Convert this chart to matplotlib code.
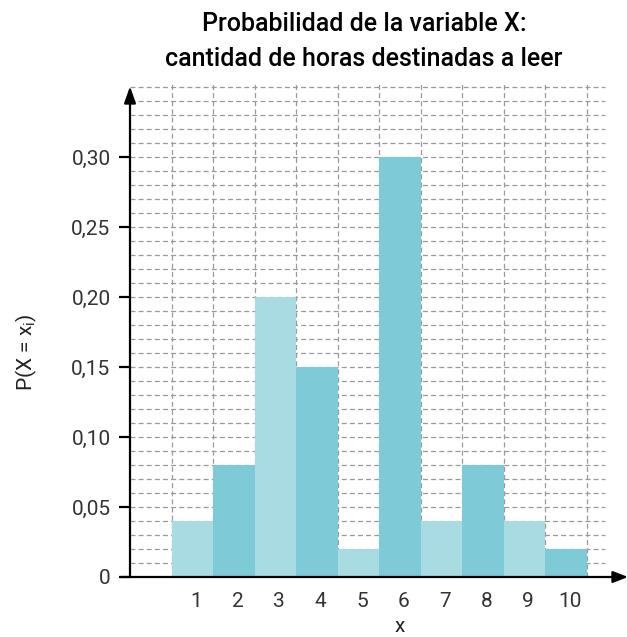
import matplotlib
matplotlib.use("Agg")
import matplotlib.pyplot as plt
import matplotlib.transforms as mtransforms
import numpy as np

x_vals = [1, 2, 3, 4, 5, 6, 7, 8, 9, 10]
probs = [0.04, 0.08, 0.20, 0.15, 0.02, 0.30, 0.04, 0.08, 0.04, 0.02]
y_ticks = [0, 0.05, 0.10, 0.15, 0.20, 0.25, 0.30]
y_ticklabels = ["0", "0,05", "0,10", "0,15", "0,20", "0,25", "0,30"]
title = "Probabilidad de la variable X:\ncantidad de horas destinadas a leer"

light = "#a9dbe2"
dark = "#7fcad7"
colors = [light if i % 2 == 0 else dark for i in range(len(x_vals))]

plt.rcParams['font.family'] = ['Roboto', 'DejaVu Sans']

W, H = 627, 637
fig = plt.figure(figsize=(W / 100, H / 100), dpi=100)
# pixel mapping: x=-0.5 at 130px, 41.5 px per unit; y=0 at 577px, 1400 px per unit
x0, xw = 130, 41.5
y0, yh = 577, 1400
xmin, xmax = -0.5, 11.7
ymin, ymax = -0.008, 0.36
left = (x0 + (xmin + 0.5) * xw) / W
right = (x0 + (xmax + 0.5) * xw) / W
bottom = (H - (y0 - ymin * yh)) / H
top = (H - (y0 - ymax * yh)) / H
ax = fig.add_axes([left, bottom, right - left, top - bottom])
ax.set_xlim(xmin, xmax)
ax.set_ylim(ymin, ymax)
for s in ax.spines.values():
    s.set_visible(False)

grid_kw = dict(color="#9a9a9a", linestyle=(0, (4, 2.5)), linewidth=0.9, zorder=1)
ax.hlines(np.arange(1, 36) / 100, -0.5, 10.95, **grid_kw)
ax.vlines(np.arange(0.5, 11.0, 1.0), 0, 0.352, **grid_kw)

ax.bar(x_vals, probs, width=1.0, color=colors, zorder=2, linewidth=0)

# axes with arrows
ax.annotate("", xy=(11.5, 0), xytext=(-0.72, 0),
            arrowprops=dict(arrowstyle="-|>,head_length=0.9,head_width=0.35",
                            color="black", lw=1.6, shrinkA=0, shrinkB=0), zorder=5)
ax.annotate("", xy=(-0.5, 0.3505), xytext=(-0.5, 0),
            arrowprops=dict(arrowstyle="-|>,head_length=1.0,head_width=0.35",
                            color="black", lw=1.6, shrinkA=0, shrinkB=0), zorder=5)

ax.set_xticks(x_vals)
ax.set_xticklabels([str(v) for v in x_vals])
ax.tick_params(axis="x", length=0, pad=3, labelsize=15, colors="#333333")
ax.set_yticks(y_ticks)
ax.set_yticklabels(y_ticklabels)
ax.tick_params(axis="y", length=8, width=1.6, pad=6, labelsize=15, colors="black",
               labelcolor="#333333")
offset = mtransforms.ScaledTranslation(4 / 100, 0, fig.dpi_scale_trans)
for lbl in ax.get_xticklabels():
    lbl.set_transform(lbl.get_transform() + offset)

fig.text(400 / W, 1 - 626 / H, "x", ha="center", va="center", fontsize=15,
         color="#222222")
fig.text(26 / W, 1 - 352 / H, "P(X = x$_\\mathregular{i}$)", ha="center", va="center",
         rotation=90, fontsize=15, color="#222222")
fig.text(364 / W, 1 - 24 / H, "Probabilidad de la variable X:", ha="center", va="center",
         fontsize=18, fontweight="medium", color="black")
fig.text(364 / W, 1 - 59 / H, "cantidad de horas destinadas a leer", ha="center",
         va="center", fontsize=18, fontweight="medium", color="black")

fig.savefig("out.png", dpi=100)
